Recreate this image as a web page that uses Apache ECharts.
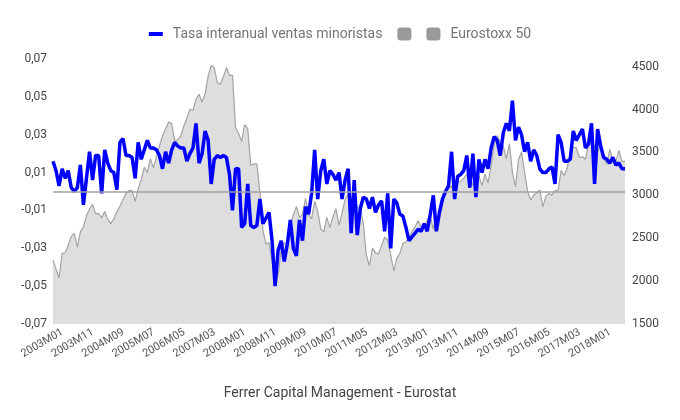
<!DOCTYPE html>
<html>
<head>
<meta charset="utf-8">
<script src="https://cdn.jsdelivr.net/npm/echarts@6/dist/echarts.min.js"></script>
<style>
html,body{margin:0;padding:0;background:#fff;}
#c{width:680px;height:420px;}
</style>
</head>
<body>
<div id="c"></div>
<script>
// Category range: 2003M01 .. 2018M09 (monthly)
const startYear = 2003;
const nMonths = 189;
const months = [];
for (let i = 0; i < nMonths; i++) {
  const y = startYear + Math.floor(i / 12);
  const m = (i % 12) + 1;
  months.push(y + 'M' + (m < 10 ? '0' + m : m));
}

// Tasa interanual ventas minoristas (left axis)
const ventas = [
  0.016, 0.011, 0.003, 0.012, 0.007, 0.011, 0.002, 0.000, 0.002, 0.014, -0.007, 0.007,
  0.021, 0.006, 0.019, 0.019, -0.001, 0.022, 0.015, 0.011, 0.010, 0.001, 0.026, 0.028,
  0.019, 0.019, 0.018, 0.007, 0.026, 0.017, 0.022, 0.027, 0.023, 0.023, 0.022, 0.019,
  0.012, 0.021, 0.015, 0.022, 0.026, 0.024, 0.023, 0.023, 0.016, 0.020, 0.023, 0.036,
  0.015, 0.020, 0.032, 0.027, 0.004, 0.017, 0.019, 0.018, 0.019, 0.018, 0.009, -0.010,
  0.012, 0.012, -0.019, -0.017, 0.004, -0.018, -0.019, -0.018, -0.004, -0.017, -0.014, -0.011,
  -0.026, -0.050, -0.031, -0.026, -0.037, -0.028, -0.015, -0.030, -0.034, -0.015, -0.026, -0.008,
  -0.012, -0.001, 0.022, -0.004, 0.011, 0.017, 0.004, 0.011, 0.009, 0.006, 0.010, -0.004,
  0.006, 0.012, -0.022, 0.006, -0.023, -0.009, -0.003, -0.004, -0.009, -0.003, -0.011, -0.007,
  -0.005, -0.021, -0.001, -0.030, -0.004, -0.006, -0.012, -0.013, -0.019, -0.026, -0.024, -0.022,
  -0.020, -0.021, -0.017, -0.021, -0.012, -0.002, -0.021, -0.011, -0.004, 0.000, 0.003, 0.021,
  -0.004, 0.008, 0.009, 0.011, 0.019, 0.002, 0.020, -0.003, 0.017, 0.010, 0.017, 0.012,
  0.023, 0.029, 0.027, 0.019, 0.031, 0.036, 0.032, 0.048, 0.027, 0.034, 0.030, 0.021,
  0.026, 0.016, 0.022, 0.019, 0.012, 0.010, 0.010, 0.012, 0.013, 0.004, 0.030, 0.026,
  0.016, 0.016, 0.017, 0.032, 0.027, 0.030, 0.033, 0.023, 0.025, 0.036, 0.004, 0.033,
  0.024, 0.018, 0.017, 0.015, 0.018, 0.014, 0.015, 0.012, 0.012
];

// Eurostoxx 50 (right axis)
const eurostoxx = [
  2248, 2140, 2036, 2324, 2331, 2419, 2519, 2556, 2395, 2575, 2631, 2761,
  2839, 2894, 2787, 2788, 2737, 2811, 2720, 2671, 2726, 2811, 2876, 2951,
  3025, 3058, 3056, 2930, 3076, 3182, 3327, 3264, 3429, 3320, 3448, 3579,
  3692, 3775, 3854, 3839, 3637, 3649, 3692, 3808, 3899, 4004, 3987, 4120,
  4178, 4087, 4182, 4393, 4513, 4489, 4316, 4294, 4382, 4490, 4398, 4400,
  3792, 3724, 3628, 3826, 3777, 3353, 3367, 3366, 3038, 2592, 2430, 2451,
  2236, 1977, 2071, 2375, 2451, 2401, 2639, 2775, 2872, 2743, 2777, 2966,
  2776, 2728, 2931, 2817, 2610, 2574, 2742, 2623, 2748, 2845, 2650, 2793,
  2954, 3013, 2911, 3011, 2862, 2849, 2670, 2302, 2180, 2385, 2330, 2317,
  2417, 2512, 2477, 2306, 2118, 2265, 2325, 2440, 2454, 2503, 2575, 2636,
  2703, 2633, 2624, 2712, 2770, 2603, 2768, 2721, 2893, 3068, 3086, 3109,
  2981, 3150, 3162, 3198, 3244, 3228, 3116, 3173, 3226, 3113, 3251, 3146,
  3351, 3599, 3697, 3616, 3571, 3424, 3601, 3270, 3101, 3418, 3506, 3268,
  3045, 2946, 3005, 3028, 3063, 2865, 2991, 3023, 3002, 3055, 3052, 3291,
  3231, 3319, 3501, 3560, 3555, 3442, 3450, 3421, 3595, 3674, 3570, 3504,
  3609, 3439, 3362, 3536, 3406, 3396, 3525, 3393, 3399
];

const nameVentas = 'Tasa interanual ventas minoristas';
const nameBlank = ' ';
const nameStoxx = 'Eurostoxx 50';
const sourceText = 'Ferrer Capital Management - Eurostat';

const chart = echarts.init(document.getElementById('c'), null, {renderer: 'canvas'});
const font = 'Roboto, "Noto Sans", sans-serif';

chart.setOption({
  animation: false,
  backgroundColor: '#ffffff',
  textStyle: {fontFamily: font},
  legend: {
    top: 22,
    left: 'center',
    itemWidth: 14,
    itemHeight: 13,
    itemGap: 15,
    symbolKeepAspect: true,
    formatter: n => (n.trim() ? n : ''),
    textStyle: {color: '#757575', fontSize: 14, fontFamily: font, padding: [0, 0, 0, 5]},
    data: [
      {name: nameVentas, icon: 'path://M0,0H14V4H0Z', itemStyle: {color: '#0000ff'}},
      {name: nameBlank, icon: 'roundRect', textStyle: {padding: 0}},
      {name: nameStoxx, icon: 'roundRect'}
    ]
  },
  title: {
    text: sourceText,
    left: 'center',
    top: 381,
    textStyle: {color: '#444', fontSize: 14, fontWeight: 'normal', fontFamily: font}
  },
  grid: {left: 53, right: 55, top: 59, bottom: 96},
  xAxis: {
    type: 'category',
    data: months,
    boundaryGap: false,
    axisLine: {show: false},
    axisTick: {show: false},
    axisLabel: {
      interval: 9,
      rotate: 30,
      margin: 13,
      padding: [0, -11, 0, 0],
      fontSize: 11,
      color: '#555',
      fontFamily: font
    },
    splitLine: {show: false}
  },
  yAxis: [
    {
      type: 'value',
      min: -0.07,
      max: 0.07,
      interval: 0.02,
      axisLine: {show: false},
      axisTick: {show: false},
      splitLine: {show: false},
      axisLabel: {
        fontSize: 12,
        color: '#444',
        margin: 6,
        fontFamily: font,
        formatter: v => Number(v).toFixed(2).replace('.', ',')
      }
    },
    {
      type: 'value',
      min: 1500,
      max: 4590,
      interval: 500,
      axisLine: {show: false},
      axisTick: {show: false},
      splitLine: {show: false},
      axisLabel: {
        fontSize: 12,
        color: '#444',
        margin: 7,
        showMaxLabel: false,
        fontFamily: font,
        formatter: v => (Math.round(v) % 500 === 0 ? String(Math.round(v)) : '')
      }
    }
  ],
  series: [
    {
      name: nameStoxx,
      type: 'line',
      yAxisIndex: 1,
      data: eurostoxx,
      showSymbol: false,
      symbol: 'none',
      z: 1,
      itemStyle: {color: '#999999'},
      lineStyle: {color: '#a3a3a3', width: 1.2},
      areaStyle: {color: '#dedede', opacity: 1, origin: 'start'}
    },
    {
      name: nameBlank,
      type: 'line',
      yAxisIndex: 0,
      data: [],
      z: 2,
      itemStyle: {color: '#999999'},
      markLine: {
        silent: true,
        symbol: 'none',
        label: {show: false},
        lineStyle: {color: '#a0a0a0', width: 1.5, type: 'solid'},
        data: [{yAxis: 0}]
      }
    },
    {
      name: nameVentas,
      type: 'line',
      yAxisIndex: 0,
      data: ventas,
      showSymbol: false,
      symbol: 'none',
      z: 3,
      itemStyle: {color: '#0000ff'},
      lineStyle: {color: '#0000ff', width: 3.5}
    }
  ]
});
</script>
</body>
</html>
